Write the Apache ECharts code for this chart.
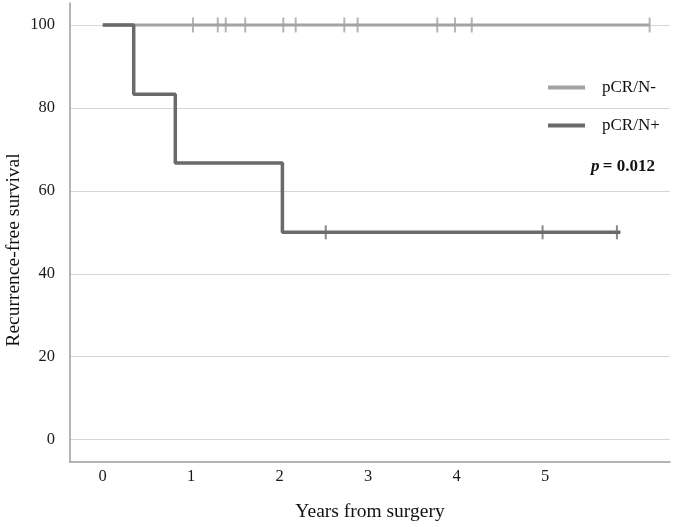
<!DOCTYPE html>
<html>
<head>
<meta charset="utf-8">
<script src="https://cdn.jsdelivr.net/npm/echarts@6/dist/echarts.min.js"></script>
<style>
  html, body { margin: 0; padding: 0; background: #fff; }
  #main { width: 674px; height: 527px; }
</style>
</head>
<body>
<div id="main"></div>
<script>
// values (years, percent)
var seriesNames = ['pCR/N-', 'pCR/N+'];
var negTimes = [0, 6.18];
var negSurv = [100, 100];
var negCensor = [1.02, 1.30, 1.39, 1.61, 2.04, 2.18, 2.73, 2.88, 3.78, 3.98, 4.17, 6.18];
var posTimes = [0, 0.35, 0.82, 2.03, 5.85];
var posSurv = [100, 83.3, 66.7, 50, 50];
var posCensor = [2.52, 4.97, 5.81];
var xTicks = [0, 1, 2, 3, 4, 5];
var yTicks = [0, 20, 40, 60, 80, 100];

var negColor = '#a3a3a3';
var posColor = '#6a6a6a';
var serif = '"Liberation Serif", "DejaVu Serif", serif';

function pairs(xs, ys) {
  return xs.map(function (x, i) { return [x, ys[i]]; });
}
// censor marks sit on the curve value at that time
function censorPts(times, xs, ys) {
  return times.map(function (t) {
    var v = ys[0];
    for (var i = 0; i < xs.length; i++) { if (xs[i] <= t) v = ys[i]; }
    return [t, v];
  });
}

var chart = echarts.init(document.getElementById('main'));
var option = {
  backgroundColor: '#fff',
  animation: false,
  grid: { left: 70, right: 4, top: 3, bottom: 64 },
  xAxis: {
    type: 'value',
    min: -0.37,
    max: 6.41,
    name: 'Years from surgery',
    nameLocation: 'middle',
    nameGap: 40,
    nameTextStyle: { fontFamily: serif, fontSize: 19.5, color: '#111' },
    axisLine: { show: true, onZero: false, lineStyle: { color: '#9c9c9c', width: 1.5 } },
    axisTick: { show: false, customValues: xTicks },
    axisLabel: { customValues: xTicks, fontFamily: serif, fontSize: 16.5, color: '#1a1a1a', margin: 6 },
    splitLine: { show: false }
  },
  yAxis: {
    type: 'value',
    min: -5.4,
    max: 105.3,
    axisLine: { show: true, onZero: false, lineStyle: { color: '#9c9c9c', width: 1.5 } },
    axisTick: { show: false, customValues: yTicks },
    axisLabel: { customValues: yTicks, fontFamily: serif, fontSize: 16.5, color: '#1a1a1a', margin: 15,
      padding: [8, 0, 0, 0] },
    splitLine: { show: true, lineStyle: { color: '#d6d6d6', width: 1.2 } }
  },
  legend: {
    orient: 'vertical',
    left: 543,
    top: 74,
    itemGap: 21,
    itemWidth: 37,
    itemHeight: 4,
    icon: 'rect',
    data: seriesNames,
    textStyle: { fontFamily: serif, fontSize: 17, color: '#111', padding: [0, 0, 0, 12] }
  },
  graphic: [
    {
      type: 'text',
      x: 14, y: 250,
      rotation: Math.PI / 2,
      style: {
        text: 'Recurrence-free survival',
        font: '19.5px ' + serif,
        fill: '#111',
        textAlign: 'center',
        textVerticalAlign: 'middle'
      }
    },
    {
      type: 'text',
      x: 591, y: 167,
      style: {
        text: '{i|p} {b|= 0.012}',
        textVerticalAlign: 'middle',
        rich: {
          i: { fontFamily: serif, fontSize: 17, fontWeight: 'bold', fontStyle: 'italic', fill: '#111' },
          b: { fontFamily: serif, fontSize: 17, fontWeight: 'bold', fill: '#111' }
        }
      }
    }
  ],
  series: [
    {
      name: seriesNames[0],
      type: 'line',
      step: 'end',
      showSymbol: false,
      color: negColor,
      lineStyle: { color: negColor, width: 3 },
      data: pairs(negTimes, negSurv),
      z: 2
    },
    {
      type: 'scatter',
      symbol: 'rect',
      symbolSize: [2, 15],
      itemStyle: { color: negColor },
      data: censorPts(negCensor, negTimes, negSurv),
      z: 2
    },
    {
      name: seriesNames[1],
      type: 'line',
      step: 'end',
      showSymbol: false,
      color: posColor,
      lineStyle: { color: posColor, width: 3.5 },
      data: pairs(posTimes, posSurv),
      z: 3
    },
    {
      type: 'scatter',
      symbol: 'rect',
      symbolSize: [2, 14],
      itemStyle: { color: posColor },
      data: censorPts(posCensor, posTimes, posSurv),
      z: 3
    }
  ]
};
chart.setOption(option);
</script>
</body>
</html>
